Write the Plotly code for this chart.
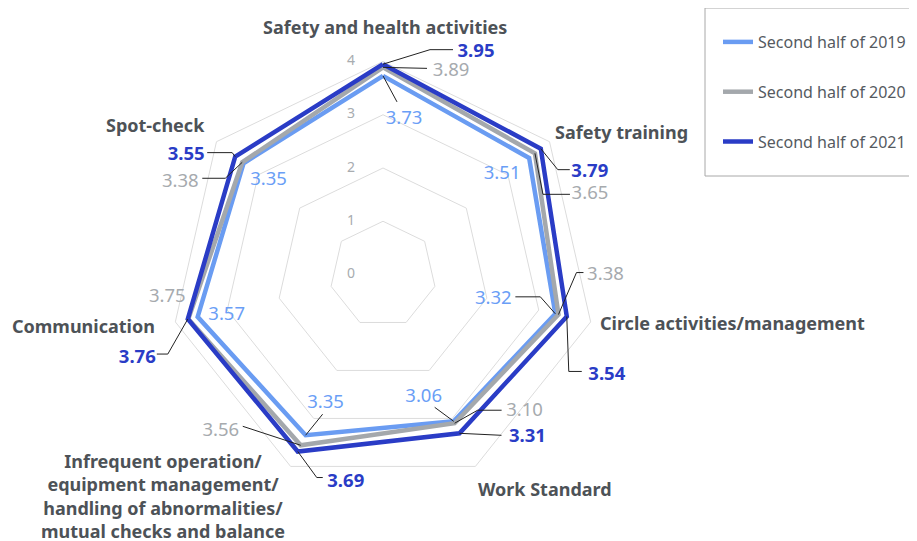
import math
import plotly.graph_objects as go

# Categories, clockwise from the top
categories = [
    "Safety and health activities",
    "Safety training",
    "Circle activities/management",
    "Work Standard",
    "Infrequent operation",
    "Communication",
    "Spot-check",
]
series_names = ["Second half of 2019", "Second half of 2020", "Second half of 2021"]
values_2019 = [3.73, 3.51, 3.32, 3.06, 3.35, 3.57, 3.35]
values_2020 = [3.89, 3.65, 3.38, 3.10, 3.56, 3.75, 3.38]
values_2021 = [3.95, 3.79, 3.54, 3.31, 3.69, 3.76, 3.55]
radial_ticks = [0, 1, 2, 3, 4]

all_values = [values_2019, values_2020, values_2021]
line_colors = ["#6a9cf2", "#a4a8ac", "#2a3cc6"]
text_colors = ["#6a9ef6", "#a6aaae", "#2a3cc6"]

# the page adds an 8px body margin, so the figure is 8px smaller than the window
PAGE_OFF = 8
W, H = 917 - PAGE_OFF, 541 - PAGE_OFF


def px(x):
    return (x - PAGE_OFF) / W


def py(y):
    return 1 - (y - PAGE_OFF) / H


N = len(categories)
angles = [k * 360 / N for k in range(N)]
R_MAX = 5.0          # radial range, leaves room for the outer labels
RAD = 266.25         # polar radius in pixels
PX = RAD / R_MAX     # pixels per radial unit
CX, CY = 383, 274.5  # centre of the radar on the page

fig = go.Figure()

# polygon grid rings
for t in radial_ticks[1:]:
    fig.add_trace(go.Scatterpolar(
        r=[t] * (N + 1), theta=angles + angles[:1], mode="lines",
        line=dict(color="#dcdcdc", width=1), showlegend=False, hoverinfo="skip",
    ))

# radial tick labels, left of the vertical axis
fig.add_trace(go.Scatterpolar(
    r=radial_ticks, theta=[0] * len(radial_ticks), mode="text",
    text=[f"{t}\u2003\u2003" for t in radial_ticks], textposition="middle left",
    textfont=dict(family="Noto Sans", size=14, color="#a8acb0"),
    showlegend=False, hoverinfo="skip", cliponaxis=False,
))

for name, vals, col in zip(series_names, all_values, line_colors):
    fig.add_trace(go.Scatterpolar(
        r=vals + vals[:1], theta=angles + angles[:1],
        mode="lines", name=name, legendgroup=name,
        line=dict(color=col, width=4.5), hovertext=categories + categories[:1],
    ))


def place(v, k, dx, dy):
    # point offset (dx, dy) pixels from the data vertex, as (r, theta)
    th = math.radians(angles[k])
    x = v * math.sin(th) + dx / PX
    y = v * math.cos(th) - dy / PX
    return math.hypot(x, y), math.degrees(math.atan2(x, y)) % 360


# label placement: (series, category) -> (text dx, text dy, leader bends[, textposition])
label_pos = {
    (0, 0): (21, 41, [(14, 26)]),
    (1, 0): (68, 2, [(44, 1)]),
    (2, 0): (93, -14.5, [(47, -14.5), (70, -14.5)]),
    (0, 1): (-27, 14, []),
    (1, 1): (55, 39, [(8, 41), (35, 41)]),
    (2, 1): (49, 21, [(17, 21), (29, 21)]),
    (0, 2): (-62, -17, [(-15, -17), (-40, -17)]),
    (1, 2): (47, -42, [(18, -42), (25, -42)]),
    (2, 2): (40, 56, [(2, 55), (15, 55)]),
    (0, 3): (-30, -26, [(-19, -14)]),
    (1, 3): (70, -14, [(23, -13), (47, -13)]),
    (2, 3): (68, 2, [(42, 2)]),
    (0, 4): (20, -34, [(17, -21)]),
    (1, 4): (-80, -16, [(-58, -19)]),
    (2, 4): (48, 28, [(19, 26), (25, 26)]),
    (0, 5): (29, -4, []),
    (1, 5): (-21, -24, []),
    (2, 5): (-32, 37, [(-20, 35), (-31, 35)], "middle left"),
    (0, 6): (25, 15, []),
    (1, 6): (-62, 18, [(-17, 16), (-40, 16)]),
    (2, 6): (-49, -4, [(-3, -4), (-28, -4)]),
}
TEXT_NUDGE = 2.5  # text sits a little high when centred, push it down

for (s, k), spec in label_pos.items():
    v = all_values[s][k]
    bends = spec[2]
    if bends:
        pts = [place(v, k, 0, 0)] + [place(v, k, bx, by) for bx, by in bends]
        fig.add_trace(go.Scatterpolar(
            r=[p[0] for p in pts], theta=[p[1] for p in pts], mode="lines",
            line=dict(color="#222222", width=1), showlegend=False, hoverinfo="skip",
        ))

for s in range(3):
    rs, ths, txt, pos = [], [], [], []
    for k in range(N):
        spec = label_pos[(s, k)]
        r, th = place(all_values[s][k], k, spec[0], spec[1] + TEXT_NUDGE)
        rs.append(r)
        ths.append(th)
        txt.append(f"{all_values[s][k]:.2f}")
        pos.append(spec[3] if len(spec) > 3 else "middle center")
    fig.add_trace(go.Scatterpolar(
        r=rs, theta=ths, mode="text", text=txt, textposition=pos,
        textfont=dict(family="Noto Sans", size=18.5, color=text_colors[s],
                      weight="bold" if s == 2 else "normal"),
        cliponaxis=False, showlegend=False, hoverinfo="skip",
    ))

fig.update_layout(
    width=W, height=H,
    margin=dict(l=0, r=0, t=0, b=0),
    paper_bgcolor="white",
    font=dict(family="Noto Sans", color="#4d5257"),
    polar=dict(
        domain=dict(x=[px(CX - RAD), px(CX + RAD)],
                    y=[py(CY + RAD), py(CY - RAD)]),
        bgcolor="rgba(0,0,0,0)",
        radialaxis=dict(range=[0, R_MAX], visible=False),
        angularaxis=dict(
            rotation=90, direction="clockwise", showticklabels=False, ticks="",
            showgrid=False, showline=False,
        ),
    ),
    legend=dict(
        x=px(718), y=py(25), xanchor="left", yanchor="top",
        borderwidth=0, bgcolor="rgba(0,0,0,0)",
        font=dict(size=16, color="#555a5f"), tracegroupgap=26,
    ),
)

# legend frame
fig.add_shape(type="rect", xref="paper", yref="paper",
              x0=px(705), x1=px(925), y0=py(176), y1=py(8),
              line=dict(color="#a8a8a8", width=1))

cat_labels = [
    ("Safety and health activities", 385, 27),
    ("Safety training", 621, 132),
    ("Circle activities/management", 732, 323),
    ("Work Standard", 545, 489),
    ("Infrequent operation/<br>equipment management/<br>handling of abnormalities/"
     "<br>mutual checks and balance", 163, 496),
    ("Communication", 83, 326),
    ("Spot-check", 155, 125),
]
for text, x, y in cat_labels:
    fig.add_annotation(
        x=px(x), y=py(y), xref="paper", yref="paper", text=text,
        showarrow=False, xanchor="center", yanchor="middle", align="center",
        font=dict(family="Noto Sans", size=18, color="#4d5257", weight="bold"),
    )

fig.write_html("out.html")
